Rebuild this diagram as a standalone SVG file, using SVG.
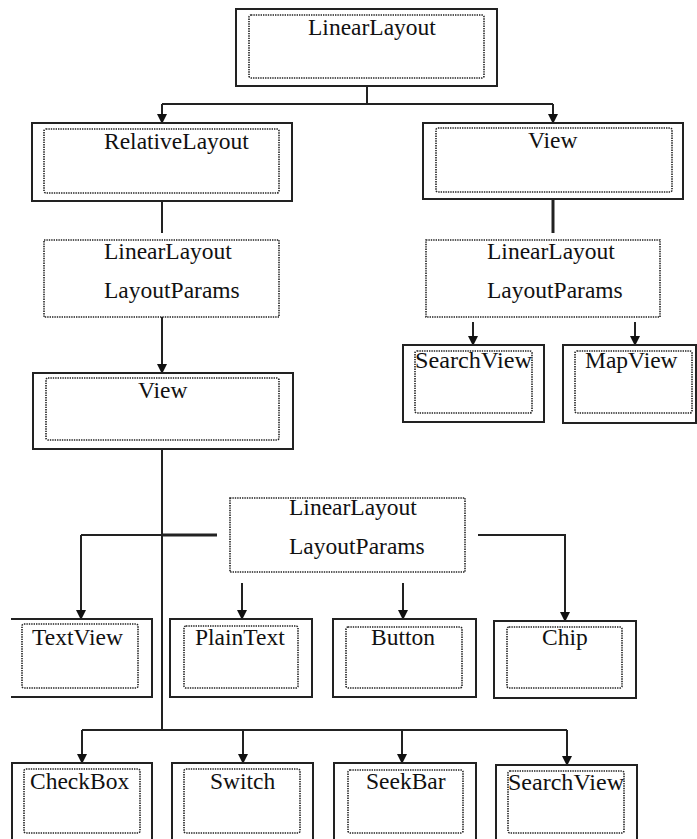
<svg xmlns="http://www.w3.org/2000/svg" width="697" height="839" viewBox="0 0 697 839">
<style>
.o{fill:none;stroke:#222;stroke-width:2}
.d{fill:none;stroke:#222;stroke-width:1.6;stroke-dasharray:1.4 1}
.c{fill:none;stroke:#222;stroke-width:2}
.a{marker-end:url(#ah)}
text{font-family:"Liberation Serif","Times New Roman",serif;font-size:23.5px;fill:#111}
</style>
<defs>
<marker id="ah" markerUnits="userSpaceOnUse" markerWidth="10" markerHeight="10" refX="9" refY="5" orient="auto">
<path d="M0,0 L10,5 L0,10 z" fill="#111"/>
</marker>
</defs>
<rect width="697" height="839" fill="#fff"/>
<g id="connectors">
<path class="c" d="M367,86 V104"/>
<path class="c" d="M162,104 H553"/>
<path class="c a" d="M162,104 V123"/>
<path class="c a" d="M553,104 V123"/>
<path class="c" d="M162,201 V233"/>
<path class="c" d="M553,199 V233" style="stroke-width:3"/>
<path class="c a" d="M162,317 V373"/>
<path class="c a" d="M473,322 V345"/>
<path class="c a" d="M635,322 V345"/>
<path class="c" d="M162,449 V730"/>
<path class="c" d="M81,535 H162"/>
<path class="c" d="M162,535 H217" style="stroke-width:3"/>
<path class="c a" d="M81,535 V619"/>
<path class="c a" d="M478,535 H565 V621"/>
<path class="c a" d="M242,583 V619"/>
<path class="c a" d="M403,583 V619"/>
<path class="c" d="M82,730 H567"/>
<path class="c a" d="M82,730 V763"/>
<path class="c a" d="M243,730 V763"/>
<path class="c a" d="M402,730 V763"/>
<path class="c a" d="M567,730 V765"/>
</g>
<g id="n-linearlayout">
<rect class="o" x="236" y="9" width="261" height="77"/>
<rect class="d" x="249" y="15" width="235" height="63" rx="2"/>
<text x="308" y="35">LinearLayout</text>
</g>
<g id="n-relativelayout">
<rect class="o" x="32" y="123" width="260" height="78"/>
<rect class="d" x="44" y="129" width="235" height="64" rx="2"/>
<text x="104" y="149">RelativeLayout</text>
</g>
<g id="n-view-right">
<rect class="o" x="423" y="123" width="260" height="76"/>
<rect class="d" x="436" y="128" width="236" height="64" rx="2"/>
<text x="528" y="148">View</text>
</g>
<g id="n-llp-left">
<rect class="d" x="44" y="240" width="235" height="77"/>
<text x="104" y="259">LinearLayout</text>
<text x="104" y="298">LayoutParams</text>
</g>
<g id="n-llp-right">
<rect class="d" x="426" y="240" width="234" height="77"/>
<text x="487" y="259">LinearLayout</text>
<text x="487" y="298">LayoutParams</text>
</g>
<g id="n-searchview-top">
<rect class="o" x="403" y="345" width="141" height="77"/>
<rect class="d" x="415" y="351" width="117" height="62" rx="2"/>
<text x="415" y="368" textLength="117" lengthAdjust="spacingAndGlyphs">SearchView</text>
</g>
<g id="n-mapview">
<rect class="o" x="563" y="345" width="133" height="78"/>
<rect class="d" x="575" y="351" width="117" height="62" rx="2"/>
<text x="585" y="368">MapView</text>
</g>
<g id="n-view-left">
<rect class="o" x="33" y="373" width="260" height="76"/>
<rect class="d" x="46" y="378" width="233" height="62" rx="2"/>
<text x="138" y="398">View</text>
</g>
<g id="n-llp-mid">
<rect class="d" x="230" y="498" width="235" height="74"/>
<text x="289" y="515">LinearLayout</text>
<text x="289" y="554">LayoutParams</text>
</g>
<g id="n-textview">
<path class="o" d="M11,619 H152 V697 H11"/>
<rect class="d" x="22" y="624" width="116" height="64" rx="2"/>
<text x="32" y="645">TextView</text>
</g>
<g id="n-plaintext">
<rect class="o" x="170" y="619" width="142" height="78"/>
<rect class="d" x="184" y="626" width="114" height="62" rx="2"/>
<text x="195" y="645">PlainText</text>
</g>
<g id="n-button">
<rect class="o" x="333" y="619" width="143" height="78"/>
<rect class="d" x="346" y="627" width="116" height="61" rx="2"/>
<text x="371" y="645">Button</text>
</g>
<g id="n-chip">
<rect class="o" x="494" y="621" width="142" height="77"/>
<rect class="d" x="507" y="627" width="115" height="61" rx="2"/>
<text x="542" y="645">Chip</text>
</g>
<g id="n-checkbox">
<rect class="o" x="12" y="763" width="140" height="90"/>
<rect class="d" x="24" y="769" width="116" height="64" rx="2"/>
<text x="30" y="789">CheckBox</text>
</g>
<g id="n-switch">
<rect class="o" x="172" y="763" width="141" height="90"/>
<rect class="d" x="184" y="769" width="116" height="64" rx="2"/>
<text x="210" y="789">Switch</text>
</g>
<g id="n-seekbar">
<rect class="o" x="334" y="763" width="142" height="90"/>
<rect class="d" x="348" y="770" width="115" height="63" rx="2"/>
<text x="366" y="789">SeekBar</text>
</g>
<g id="n-searchview-bottom">
<rect class="o" x="496" y="765" width="141" height="90"/>
<rect class="d" x="508" y="771" width="116" height="62" rx="2"/>
<text x="508" y="790" textLength="116" lengthAdjust="spacingAndGlyphs">SearchView</text>
</g>
</svg>
